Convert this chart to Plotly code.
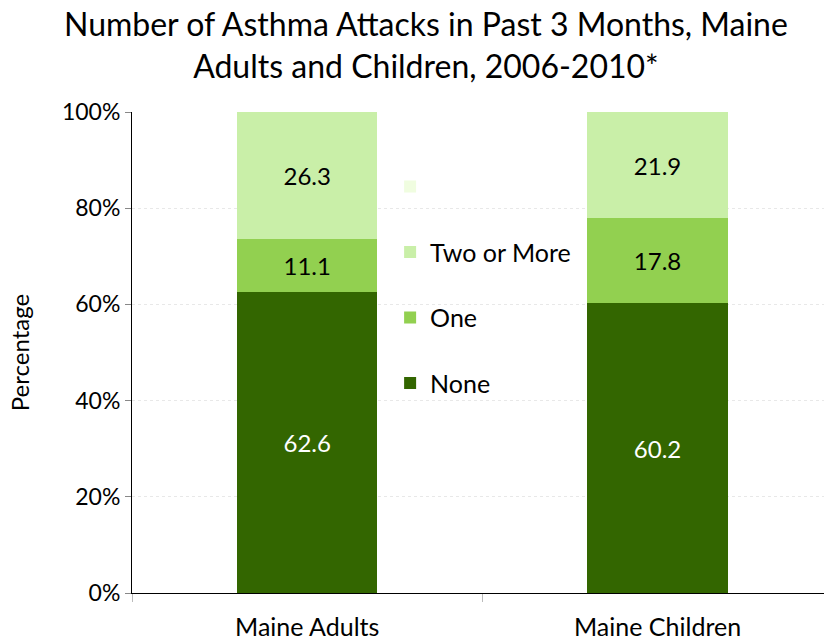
import plotly.graph_objects as go

categories = ["Maine Adults", "Maine Children"]
none_vals = [62.6, 60.2]
one_vals = [11.1, 17.8]
two_vals = [26.3, 21.9]
extra_vals = [0, 0]
series_names = ["None", "One", "Two or More", " "]
legend_ranks = [4, 3, 2, 1]
colors = ["#336600", "#92d050", "#c9efa8", "#f0fde0"]
text_colors = ["white", "black", "black", "black"]
title_text = "Number of Asthma Attacks in Past 3 Months, Maine<br>Adults and Children, 2006-2010*"

FONT = "Lato"
fig = go.Figure()
for i, (name, vals) in enumerate(zip(series_names, [none_vals, one_vals, two_vals, extra_vals])):
    fig.add_trace(go.Bar(
        x=categories, y=vals, name=name,
        marker=dict(color=colors[i], line=dict(width=0)),
        text=[f"{v:.1f}" if v else "" for v in vals],
        textposition="inside", insidetextanchor="middle",
        textfont=dict(color=text_colors[i], size=24, family=FONT),
        width=0.4, legendgroup=f"g{i}", legendrank=legend_ranks[i],
        hoverinfo="skip",
    ))

fig.add_annotation(
    text=title_text, xref="paper", yref="paper", x=0.425, y=(593 - 45) / 481,
    xanchor="center", yanchor="middle", showarrow=False, align="center",
    font=dict(size=32, family=FONT, color="black"),
)

fig.update_layout(
    barmode="stack",
    width=824, height=642,
    margin=dict(l=132, r=0, t=112, b=49),
    paper_bgcolor="white", plot_bgcolor="white",
    font=dict(family=FONT, color="black"),
    legend=dict(x=0.373, xanchor="left", y=0.8925, yanchor="top",
                traceorder="grouped", tracegroupgap=30,
                font=dict(size=25, family=FONT, color="black"),
                bgcolor="rgba(0,0,0,0)"),
    xaxis=dict(range=[-0.5, 1.475], showline=True, linecolor="black", linewidth=1,
               tickson="boundaries", ticks="outside", ticklen=8, tickcolor="#bbbbbb",
               ticklabelstandoff=12,
               tickfont=dict(size=25, family=FONT), showgrid=False),
    yaxis=dict(range=[0, 100], dtick=20, ticksuffix="%", showline=True, linecolor="black",
               linewidth=1, ticks="outside", ticklen=6, tickcolor="#888888",
               showgrid=True, gridcolor="#e8e8e8", griddash="dot", zeroline=False,
               tickfont=dict(size=23, family=FONT),
               title=dict(text="Percentage", font=dict(size=24, family=FONT), standoff=25)),
    uniformtext=dict(minsize=10, mode="show"),
)
fig.write_html("out.html")
